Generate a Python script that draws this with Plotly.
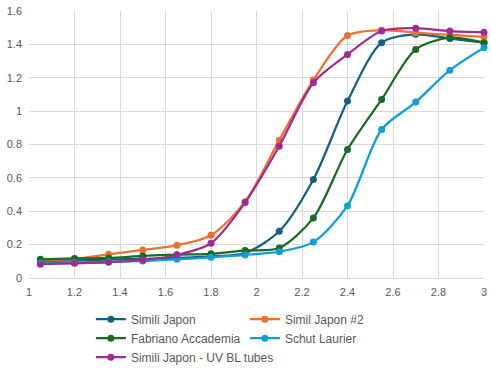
import plotly.graph_objects as go

x_vals = [1.05, 1.2, 1.35, 1.5, 1.65, 1.8, 1.95, 2.1, 2.25, 2.4, 2.55, 2.7, 2.85, 3.0]

simili_japon = [0.10, 0.105, 0.11, 0.115, 0.12, 0.13, 0.15, 0.28, 0.59, 1.06, 1.41, 1.46, 1.435, 1.41]
simil_japon_2 = [0.108, 0.115, 0.142, 0.168, 0.196, 0.256, 0.457, 0.826, 1.186, 1.453, 1.485, 1.47, 1.457, 1.445]
fabriano = [0.112, 0.117, 0.12, 0.132, 0.14, 0.145, 0.165, 0.18, 0.36, 0.77, 1.07, 1.37, 1.44, 1.41]
schut_laurier = [0.09, 0.093, 0.097, 0.102, 0.112, 0.124, 0.138, 0.158, 0.215, 0.433, 0.89, 1.054, 1.245, 1.38]
simili_uv = [0.083, 0.088, 0.094, 0.108, 0.138, 0.208, 0.452, 0.79, 1.17, 1.34, 1.48, 1.497, 1.48, 1.473]

series_names = ["Simili Japon", "Simil Japon #2", "Fabriano Accademia", "Schut Laurier", "Simili Japon - UV BL tubes"]
series_values = [simili_japon, simil_japon_2, fabriano, schut_laurier, simili_uv]
series_colors = ["#156082", "#E97132", "#196B24", "#0F9ED5", "#A02B93"]

x_ticks = [1, 1.2, 1.4, 1.6, 1.8, 2, 2.2, 2.4, 2.6, 2.8, 3]
y_ticks = [0, 0.2, 0.4, 0.6, 0.8, 1, 1.2, 1.4, 1.6]

fig = go.Figure()
for name, vals, col in zip(series_names, series_values, series_colors):
    fig.add_trace(go.Scatter(
        x=x_vals, y=vals, name=name, mode="lines+markers",
        line=dict(color=col, width=2.25, shape="spline", smoothing=0.8),
        marker=dict(color=col, size=7),
        cliponaxis=False,
    ))

font_c = "#595959"
fig.update_layout(
    width=492, height=379,
    margin=dict(l=29, r=8, t=11, b=101, autoexpand=False),
    paper_bgcolor="white", plot_bgcolor="white",
    font=dict(family="Liberation Sans, Arial, sans-serif", size=11, color=font_c),
    showlegend=True,
    legend=dict(
        orientation="h", x=0.136, xanchor="left", y=-0.1, yanchor="top",
        entrywidth=109, entrywidthmode="pixels",
        font=dict(size=12, color=font_c),
        bgcolor="rgba(0,0,0,0)",
    ),
)
fig.update_xaxes(
    range=[1, 3], tickvals=x_ticks, showgrid=True, gridcolor="#D9D9D9", gridwidth=1,
    showline=True, linecolor="#D9D9D9", linewidth=1, zeroline=False,
    ticks="", ticklabelstandoff=4, automargin=False, ticklabeloverflow="allow",
)
fig.update_yaxes(
    range=[0, 1.6], tickvals=y_ticks, showgrid=True, gridcolor="#D9D9D9", gridwidth=1,
    showline=False, zeroline=False, ticks="", ticklabelstandoff=6, automargin=False,
    ticklabeloverflow="allow",
)

fig.write_html("out.html", config={"displayModeBar": False},
               post_script="document.body.style.margin='0';")
